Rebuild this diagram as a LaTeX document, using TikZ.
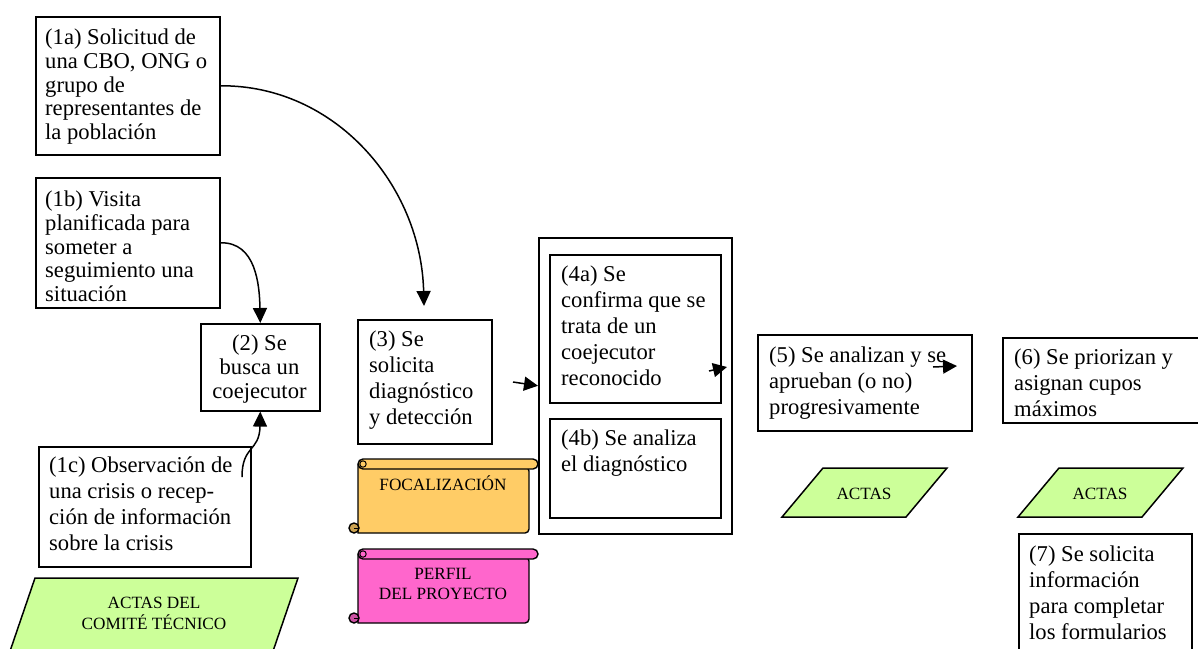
\documentclass[tikz,border=0pt]{standalone}
\usepackage{fontspec}
\setmainfont{Liberation Serif}
\usetikzlibrary{arrows.meta}
\definecolor{actasgreen}{HTML}{CCFF99}
\definecolor{focorange}{HTML}{FFCC66}
\definecolor{perfilpink}{HTML}{FF66CC}
\begin{document}
\begin{tikzpicture}[x=1pt,y=-1pt,
  box/.style={draw, line width=1.6pt, inner sep=0pt, anchor=north west},
  txt/.style={align=left, inner sep=0pt, anchor=north west, font=\fontsize{22.6}{26}\selectfont},
  tighttxt/.style={txt, font=\fontsize{22.6}{23.6}\selectfont},
  ctxt/.style={txt, align=center, anchor=north, font=\fontsize{22.6}{24}\selectfont},
  small/.style={align=center, inner sep=0pt, font=\fontsize{17.2}{20.5}\selectfont},
  doc/.style={draw, line width=1.5pt, fill=actasgreen},
  scrl/.style={draw, line width=1.4pt},
  arr/.style={line width=1.5pt, -{Triangle[length=15pt,width=14pt]}},
  shortarr/.style={line width=1.5pt, -{Triangle[length=14pt,width=14pt]}}]

\useasboundingbox (0,0) rectangle (1198,648);
\clip (0,0) rectangle (1198,648);

% ---------- step boxes ----------
\node[box, minimum width=184pt, minimum height=138pt] (b1a) at (35,16) {};
\node[tighttxt] (t1a) at (45,29) {(1a) Solicitud de\\una CBO, ONG o\\grupo de\\representantes de\\la población};

\node[box, minimum width=184pt, minimum height=130pt] (b1b) at (35,177) {};
\node[tighttxt] (t1b) at (45,191) {(1b) Visita\\planificada para\\someter a\\seguimiento una\\situación};

\node[box, minimum width=212pt, minimum height=120pt] (b1c) at (38,446) {};
\node[txt] (t1c) at (49,457) {(1c) Observación de\\una crisis o recep-\\ción de información\\sobre la crisis};

\node[box, minimum width=119pt, minimum height=87pt] (b2) at (200,323) {};
\node[ctxt] (t2) at (259.5,335) {(2) Se\\busca un\\coejecutor};

\node[box, minimum width=134pt, minimum height=124pt] (b3) at (357,319) {};
\node[txt] (t3) at (369,331) {(3) Se\\solicita\\diagnóstico\\y detección};

\node[box, minimum width=193pt, minimum height=296pt] (b4) at (538,237) {};
\node[box, minimum width=171pt, minimum height=148pt] (b4a) at (549,254) {};
\node[txt] (t4a) at (561,266) {(4a) Se\\confirma que se\\trata de un\\coejecutor\\reconocido};
\node[box, minimum width=171pt, minimum height=99pt] (b4b) at (549,418) {};
\node[txt] (t4b) at (561,430) {(4b) Se analiza\\el diagnóstico};

\node[box, minimum width=214pt, minimum height=96pt] (b5) at (757,334) {};
\node[txt] (t5) at (769,347) {(5) Se analizan y se\\aprueban (o no)\\progresivamente};

\node[box, minimum width=210pt, minimum height=85pt] (b6) at (1002,337) {};
\node[txt] (t6) at (1014,349) {(6) Se priorizan y\\asignan cupos\\máximos};

\node[box, minimum width=173pt, minimum height=130pt] (b7) at (1018,533) {};
\node[txt] (t7) at (1029,546) {(7) Se solicita\\información\\para completar\\los formularios};

% ---------- document shapes (minutes) ----------
\draw[doc] (35,578) -- (298,578) -- (270,660) -- (7,660) -- cycle;
\node[small, anchor=north] (actas1) at (154,597) {ACTAS DEL\\COMITÉ TÉCNICO};

\draw[doc] (823,468) -- (947,468) -- (906,517) -- (782,517) -- cycle;
\node[small, anchor=base] (actas5) at (864,499) {ACTAS};

\draw[doc] (1059,468) -- (1183,468) -- (1142,517) -- (1018,517) -- cycle;
\node[small, anchor=base] (actas6) at (1100,499) {ACTAS};

% ---------- scrolls ----------
\begin{scope}[shift={(358,459)}]
  \filldraw[scrl, fill=focorange] (0,6) -- (0,74) [rounded corners=4pt]-- (171,74) -- (171,8) [sharp corners]-- cycle;
  \filldraw[scrl, fill=focorange, rounded corners=5pt] (0,0) rectangle (180,10);
  \draw[line width=1pt] (5,5) circle (3.2);
  \filldraw[scrl, fill=focorange!80!black] (-4,69) circle (5);
  \draw[line width=1pt] (-4,69) -- (1,69);
\end{scope}
\node[small, anchor=base] (foc) at (443,490) {FOCALIZACIÓN};

\begin{scope}[shift={(358,549)}]
  \filldraw[scrl, fill=perfilpink] (0,6) -- (0,74) [rounded corners=4pt]-- (171,74) -- (171,8) [sharp corners]-- cycle;
  \filldraw[scrl, fill=perfilpink, rounded corners=5pt] (0,0) rectangle (180,10);
  \draw[line width=1pt] (5,5) circle (3.2);
  \filldraw[scrl, fill=perfilpink!80!black] (-4,69) circle (5);
  \draw[line width=1pt] (-4,69) -- (1,69);
\end{scope}
\node[small, anchor=north] (perf) at (443,568) {PERFIL\\DEL PROYECTO};

% ---------- connectors ----------
\coordinate (e3) at (424,306);
\coordinate (s1c) at (242,477);
\coordinate (s3) at (513,382);
\coordinate (s4a) at (709,371);
\coordinate (e4a) at (727,367);
\coordinate (s5) at (933,367);
\coordinate (e5) at (957,366);

\draw[arr] (b1a.east) .. controls (335,85) and (421,185) .. (e3);
\draw[arr] (b1b.east) .. controls (256,242) and (259.5,285) .. (b2.north);
\draw[arr] (s1c) .. controls (242,445) and (259.5,452) .. (b2.south);
\draw[shortarr] (s3) -- (b4.west);
\draw[shortarr] (s4a) -- (e4a);
\draw[shortarr] (s5) -- (e5);
\end{tikzpicture}
\end{document}
